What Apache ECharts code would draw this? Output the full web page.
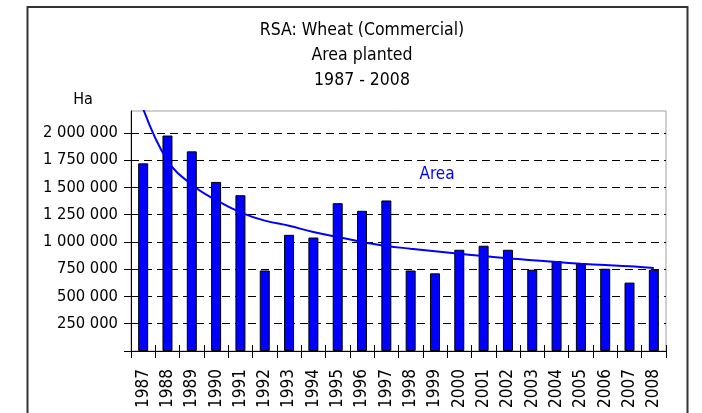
<!DOCTYPE html>
<html lang="en">
<head>
<meta charset="UTF-8">
<title>RSA: Wheat (Commercial) - Area planted</title>
<script src="https://cdn.jsdelivr.net/npm/echarts@6/dist/echarts.min.js"></script>
</head>
<body style="margin:0;background:#fff;">

<div id="main" style="width:702px;height:413px;"></div>

<script type="text/javascript">
    // data
    var years = ['1987', '1988', '1989', '1990', '1991', '1992', '1993', '1994', '1995', '1996', '1997',
                 '1998', '1999', '2000', '2001', '2002', '2003', '2004', '2005', '2006', '2007', '2008'];
    // area planted, ha
    var areaPlanted = [1720000, 1975000, 1830000, 1550000, 1428000, 738000, 1065000, 1040000, 1355000, 1285000, 1380000,
                       738000, 712000, 928000, 965000, 928000, 745000, 824000, 800000, 754000, 627000, 745000];
    // trend line (drawn in blue over the bars)
    var areaTrend = [2220000, 1745000, 1524000, 1382000, 1271000, 1195000, 1148000, 1090000, 1045000, 1000000, 963000,
                     938000, 915000, 891000, 870000, 851000, 831000, 815000, 800000, 788000, 776000, 760000];
    // y axis scale and ticks
    var yMin = 0;
    var yMax = 2200000;
    var yTicks = [0, 250000, 500000, 750000, 1000000, 1250000, 1500000, 1750000, 2000000];

    var FONT = "'DejaVu Sans Condensed', 'DejaVu Sans', sans-serif";

    function spaced(v) {
        return String(v).replace(/\B(?=(\d{3})+(?!\d))/g, ' ');
    }

    var myChart = echarts.init(document.getElementById('main'));

    var option = {
        backgroundColor: '#fff',
        animation: false,
        title: {
            text: 'RSA: Wheat (Commercial)\nArea planted\n1987 - 2008',
            left: 357,
            top: 13,
            textAlign: 'center',
            textStyle: {
                fontFamily: FONT,
                fontSize: 17.5,
                fontWeight: 'normal',
                color: '#000',
                lineHeight: 25
            }
        },
        grid: {
            left: 131,
            right: 36,
            top: 111,
            bottom: 62,
            show: true,
            borderColor: '#a0a0a0',
            borderWidth: 1
        },
        xAxis: [{
            type: 'category',
            data: years,
            axisLine: {lineStyle: {color: '#000', width: 1}},
            axisTick: {show: true, interval: 0, length: 7, lineStyle: {color: '#000'}},
            axisLabel: {
                interval: 0,
                rotate: 90,
                margin: 18,
                color: '#000',
                fontFamily: FONT,
                fontSize: 17
            },
            splitLine: {show: false}
        }, {
            // only for the inner half of the crossing ticks
            type: 'category',
            data: years,
            position: 'bottom',
            axisLine: {show: false},
            axisTick: {show: true, inside: true, interval: 0, length: 6, lineStyle: {color: '#000'}},
            axisLabel: {show: false},
            splitLine: {show: false}
        }],
        yAxis: [{
            type: 'value',
            min: yMin,
            max: yMax,
            axisLine: {show: true, lineStyle: {color: '#000', width: 1}},
            axisTick: {show: true, length: 7, customValues: yTicks, lineStyle: {color: '#000'}},
            axisLabel: {
                customValues: yTicks,
                margin: 13,
                color: '#000',
                fontFamily: FONT,
                fontSize: 16.4,
                formatter: function (v) {
                    return v === 0 ? '' : spaced(v);
                }
            },
            splitLine: {show: true, lineStyle: {color: '#000', width: 1, type: [8, 5]}}
        }, {
            type: 'value',
            position: 'left',
            min: yMin,
            max: yMax,
            axisLine: {show: false},
            axisTick: {show: true, inside: true, length: 6, customValues: yTicks, lineStyle: {color: '#000'}},
            axisLabel: {show: false, customValues: yTicks},
            splitLine: {show: false}
        }],
        series: [{
            name: 'Area planted',
            type: 'bar',
            xAxisIndex: 0,
            yAxisIndex: 0,
            barWidth: 10,
            itemStyle: {color: '#0000ff', borderColor: '#000', borderWidth: 1},
            data: areaPlanted,
            z: 3
        }, {
            name: 'Area',
            type: 'line',
            xAxisIndex: 0,
            yAxisIndex: 0,
            smooth: 0.4,
            showSymbol: false,
            clip: true,
            lineStyle: {color: '#0000ff', width: 2},
            data: areaTrend,
            z: 5
        }],
        graphic: [{
            // outer frame
            type: 'rect',
            shape: {x: 27.5, y: 7, width: 660, height: 430},
            style: {fill: null, stroke: '#333', lineWidth: 2},
            silent: true
        }, {
            type: 'text',
            x: 83,
            y: 100,
            style: {text: 'Ha', fill: '#000', font: '16px ' + FONT, align: 'center', verticalAlign: 'middle'}
        }, {
            type: 'text',
            x: 437,
            y: 175,
            style: {text: 'Area', fill: '#0000ff', font: '17px ' + FONT, align: 'center', verticalAlign: 'middle'}
        }]
    };

    myChart.setOption(option);
</script>
</body>
</html>
